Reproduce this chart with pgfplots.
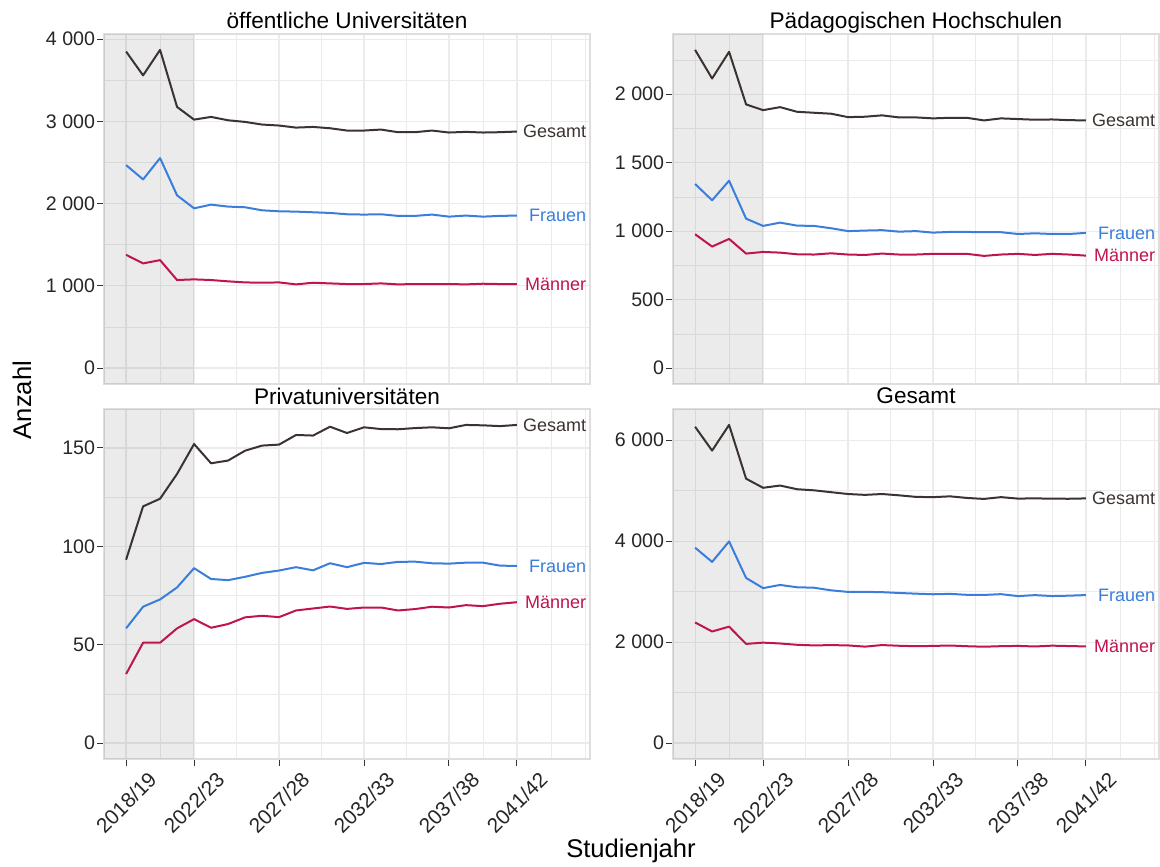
\documentclass[border=0pt]{standalone}
\usepackage{fontspec}
\setmainfont{Liberation Sans}
\usepackage{pgfplots}
\usepackage{pgfplotstable}
\pgfplotsset{compat=1.18}

\definecolor{gesamtc}{HTML}{3B3330}
\definecolor{frauenc}{HTML}{3A7DDA}
\definecolor{maennerc}{HTML}{C0144C}
\definecolor{gridc}{HTML}{EBEBEB}
\definecolor{framec}{HTML}{DEDEDE}

% Studierende je Hochschultyp: jahr gesamt frauen maenner
\pgfplotstableread{
jahr ges fra mae
2018 3850 2469 1378
2019 3560 2295 1273
2020 3870 2554 1313
2021 3176 2101 1071
2022 3022 1943 1079
2023 3055 1988 1071
2024 3014 1964 1055
2025 2994 1956 1042
2026 2962 1919 1038
2027 2950 1907 1042
2028 2925 1903 1018
2029 2933 1895 1038
2030 2917 1887 1030
2031 2889 1871 1022
2032 2889 1867 1022
2033 2901 1871 1030
2034 2869 1851 1018
2035 2869 1851 1022
2036 2889 1867 1022
2037 2865 1842 1022
2038 2873 1855 1018
2039 2865 1842 1026
2040 2869 1851 1022
2041 2877 1855 1022
}\oeff

\pgfplotstableread{
jahr ges fra mae
2018 2323 1344 977
2019 2114 1225 887
2020 2309 1368 943
2021 1925 1091 836
2022 1883 1038 848
2023 1905 1062 843
2024 1871 1040 831
2025 1864 1038 829
2026 1857 1021 838
2027 1832 1000 829
2028 1835 1004 826
2029 1845 1007 836
2030 1830 996 829
2031 1830 1000 829
2032 1823 989 834
2033 1827 994 834
2034 1827 994 834
2035 1808 992 819
2036 1823 992 829
2037 1818 979 834
2038 1813 984 826
2039 1815 979 834
2040 1810 979 829
2041 1808 987 821
}\paed

\pgfplotstableread{
jahr ges fra mae
2018 93.2 58.3 35.1
2019 120.3 69.3 51.0
2020 124.2 73.0 51.0
2021 136.8 79.1 58.3
2022 152.0 88.9 63.0
2023 142.2 83.4 58.6
2024 143.6 82.8 60.5
2025 148.6 84.5 63.9
2026 151.2 86.5 64.7
2027 151.7 87.7 64.0
2028 156.6 89.4 67.4
2029 156.3 87.8 68.4
2030 160.8 91.4 69.4
2031 157.6 89.4 68.2
2032 160.5 91.6 68.9
2033 159.6 91.0 68.9
2034 159.5 92.1 67.4
2035 160.1 92.2 68.1
2036 160.5 91.4 69.3
2037 160.0 91.2 68.9
2038 161.7 91.7 70.1
2039 161.5 91.7 69.6
2040 161.1 90.2 70.8
2041 161.7 90.0 71.6
}\privat

\pgfplotstableread{
jahr ges fra mae
2018 6266 3871 2390
2019 5794 3589 2211
2020 6303 3995 2307
2021 5238 3271 1965
2022 5057 3070 1990
2023 5102 3133 1973
2024 5029 3087 1947
2025 5007 3078 1935
2026 4970 3026 1941
2027 4934 2995 1935
2028 4917 2996 1911
2029 4934 2990 1942
2030 4908 2974 1928
2031 4877 2960 1919
2032 4872 2948 1925
2033 4888 2956 1933
2034 4856 2937 1919
2035 4837 2935 1909
2036 4872 2950 1920
2037 4843 2912 1925
2038 4848 2931 1914
2039 4841 2913 1930
2040 4840 2920 1922
2041 4847 2932 1915
}\alle

\pgfplotsset{
  panel/.style={
    scale only axis, width=243pt, height=175pt,
    anchor=south west,
    xmin=2016.7, xmax=2045.3,
    xtick={2018,2022,2027,2032,2037,2041},
    minor xtick={2020,2024.5,2029.5,2034.5,2039,2043,2045},
    xticklabels={2018/19,2022/23,2027/28,2032/33,2037/38,2041/42},
    grid=both,
    major grid style={draw=gridc, line width=0.6pt},
    minor grid style={draw=gridc, line width=0.35pt},
    axis line style={draw=framec, line width=0.6pt},
    tick align=outside, tick pos=left,
    major tick length=3.3pt, minor tick length=0pt,
    tick style={draw=black!80, line width=0.5pt},
    scaled y ticks=false,
    /pgf/number format/assume math mode=true,
    /pgf/number format/1000 sep={\hspace{0.28em}},
    ticklabel style={font=\fontsize{9.8}{11}\selectfont, text=black!85},
    yticklabel style={inner sep=1pt},
    xticklabel style={yshift=-18.5pt, rotate=45, anchor=center, inner sep=0pt,
      font=\fontsize{10.4}{11}\selectfont},
    every axis title shift=0pt,
    title style={at={(0.5,1)}, anchor=base, yshift=2.5pt, font=\fontsize{11.3}{13}\selectfont},
  },
  toprow/.style={xticklabels={}, xtick style={draw=none}},
  ges/.style={gesamtc, line width=1pt, line join=round},
  fra/.style={frauenc, line width=1pt, line join=round},
  mae/.style={maennerc, line width=1pt, line join=round},
}
\newcommand{\lab}[3]{\node[anchor=east, inner sep=0pt, text=#1, font=\fontsize{9}{10}\selectfont] at (axis cs:2045.1,#2) {#3};}
\newcommand{\histbox}[2]{\fill[black, opacity=0.08] (axis cs:2016.7,#1) rectangle (axis cs:2022,#2);}

\begin{document}
\begin{tikzpicture}
\useasboundingbox (0,0) rectangle (580pt,433pt);

\begin{axis}[panel, toprow, at={(52pt,241pt)},
  title={öffentliche Universitäten},
  ymin=-193.5, ymax=4063.5,
  ytick={0,1000,2000,3000,4000}, minor ytick={500,1500,2500,3500}]
  \histbox{-193.5}{4063.5}
  \addplot[ges] table[x=jahr, y=ges] {\oeff};
  \addplot[fra] table[x=jahr, y=fra] {\oeff};
  \addplot[mae] table[x=jahr, y=mae] {\oeff};
  \lab{gesamtc}{2877}{Gesamt}
  \lab{frauenc}{1855}{Frauen}
  \lab{maennerc}{1022}{Männer}
\end{axis}

\begin{axis}[panel, toprow, at={(336.5pt,241pt)},
  title={Pädagogischen Hochschulen},
  ymin=-116, ymax=2439,
  ytick={0,500,1000,1500,2000}, minor ytick={250,750,1250,1750,2250}]
  \histbox{-116}{2439}
  \addplot[ges] table[x=jahr, y=ges] {\paed};
  \addplot[fra] table[x=jahr, y=fra] {\paed};
  \addplot[mae] table[x=jahr, y=mae] {\paed};
  \lab{gesamtc}{1808}{Gesamt}
  \lab{frauenc}{980}{Frauen}
  \lab{maennerc}{821}{Männer}
\end{axis}

\begin{axis}[panel, at={(52pt,53.5pt)},
  title={Privatuniversitäten},
  ymin=-8.1, ymax=169.8,
  ytick={0,50,100,150}, minor ytick={25,75,125}]
  \histbox{-8.1}{169.8}
  \addplot[ges] table[x=jahr, y=ges] {\privat};
  \addplot[fra] table[x=jahr, y=fra] {\privat};
  \addplot[mae] table[x=jahr, y=mae] {\privat};
  \lab{gesamtc}{161.7}{Gesamt}
  \lab{frauenc}{90}{Frauen}
  \lab{maennerc}{71.6}{Männer}
\end{axis}

\begin{axis}[panel, at={(336.5pt,53.5pt)},
  title={Gesamt},
  ymin=-315, ymax=6618,
  ytick={0,2000,4000,6000}, minor ytick={1000,3000,5000}]
  \histbox{-315}{6618}
  \addplot[ges] table[x=jahr, y=ges] {\alle};
  \addplot[fra] table[x=jahr, y=fra] {\alle};
  \addplot[mae] table[x=jahr, y=mae] {\alle};
  \lab{gesamtc}{4847}{Gesamt}
  \lab{frauenc}{2932}{Frauen}
  \lab{maennerc}{1915}{Männer}
\end{axis}

\node[rotate=90, font=\fontsize{12.8}{14}\selectfont] at (11pt,233pt) {Anzahl};
\node[font=\fontsize{12.8}{14}\selectfont] at (315.5pt,7.5pt) {Studienjahr};
\end{tikzpicture}
\end{document}
